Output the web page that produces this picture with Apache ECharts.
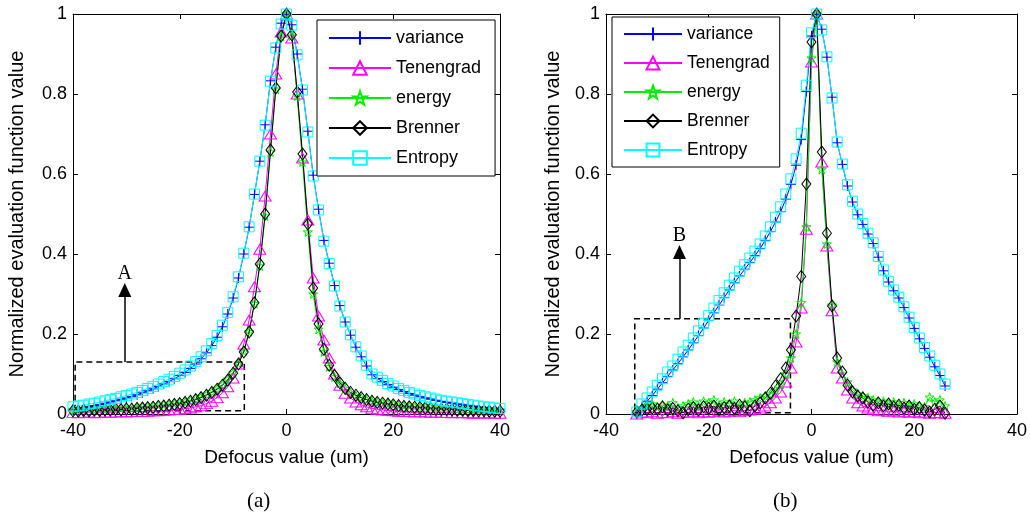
<!DOCTYPE html>
<html><head><meta charset="utf-8">
<script src="https://cdn.jsdelivr.net/npm/echarts@6/dist/echarts.min.js"></script>
<style>html,body{margin:0;padding:0;background:#fff}#c{width:1030px;height:522px}</style>
</head><body><div id="c"></div>
<script>
// ---------- DATA ----------
const seriesNames = ['variance', 'Tenengrad', 'energy', 'Brenner', 'Entropy'];
const xTicks = [-40, -20, 0, 20, 40];
const yTicks = [0, 0.2, 0.4, 0.6, 0.8, 1];

// (a) defocus positions
const aX = [-40,-39,-38,-37,-36,-35,-34,-33,-32,-31,-30,-29,-28,-27,-26,-25,-24,-23,-22,-21,-20,-19,-18,-17,-16,
  -15,-14,-13,-12,-11,-10,-9,-8,-7,-6,-5,-4,-3,-2,-1,0,1,2,3,4,5,6,7,8,9,10,11,12,13,14,15,
  16,17,18,19,20,21,22,23,24,25,26,27,28,29,30,31,32,33,34,35,36,37,38,39,40];
const aVariance = [0.012,0.014,0.016,0.019,0.021,0.024,0.027,0.030,0.033,0.037,0.040,0.044,0.048,0.053,0.058,0.063,0.069,0.075,0.081,0.088,0.096,0.104,0.114,0.125,0.138,
  0.153,0.171,0.192,0.218,0.250,0.290,0.340,0.400,0.467,0.549,0.632,0.723,0.833,0.917,0.977,1.000,
  0.973,0.900,0.812,0.707,0.597,0.512,0.434,0.377,0.321,0.271,0.230,0.197,0.167,0.143,0.120,
  0.098,0.089,0.081,0.074,0.067,0.061,0.056,0.051,0.047,0.043,0.040,0.037,0.034,0.031,0.029,0.027,0.025,0.023,0.021,0.019,0.017,0.016,0.014,0.013,0.012];
const aTenengrad = [0.004,0.003,0.004,0.005,0.003,0.004,0.005,0.004,0.005,0.006,0.005,0.006,0.007,0.006,0.007,0.008,0.008,0.009,0.010,0.011,0.012,0.013,0.015,0.018,0.021,
  0.026,0.032,0.041,0.053,0.068,0.090,0.125,0.175,0.235,0.318,0.412,0.545,0.700,0.850,0.955,1.000,
  0.940,0.800,0.640,0.485,0.340,0.245,0.185,0.140,0.100,0.072,0.052,0.040,0.030,0.023,0.018,
  0.014,0.012,0.010,0.009,0.008,0.007,0.007,0.006,0.005,0.006,0.005,0.004,0.005,0.004,0.004,0.003,0.004,0.003,0.003,0.002,0.003,0.002,0.003,0.002,0.002];
const aEnergy = [0.010,0.012,0.009,0.013,0.011,0.014,0.012,0.015,0.013,0.016,0.014,0.017,0.016,0.018,0.019,0.020,0.022,0.023,0.025,0.027,0.029,0.031,0.034,0.038,0.043,
  0.049,0.056,0.064,0.074,0.087,0.104,0.127,0.157,0.206,0.276,0.370,0.495,0.655,0.812,0.944,1.000,
  0.945,0.795,0.630,0.455,0.300,0.212,0.155,0.118,0.093,0.076,0.063,0.053,0.046,0.041,0.036,
  0.033,0.030,0.028,0.026,0.024,0.022,0.021,0.020,0.019,0.017,0.017,0.016,0.015,0.014,0.014,0.013,0.012,0.012,0.011,0.011,0.010,0.010,0.009,0.009,0.008];
const aBrenner = [0.008,0.007,0.009,0.008,0.010,0.009,0.011,0.010,0.012,0.011,0.013,0.012,0.014,0.015,0.016,0.017,0.019,0.020,0.022,0.024,0.026,0.029,0.032,0.036,0.041,
  0.047,0.054,0.062,0.072,0.085,0.102,0.125,0.155,0.205,0.278,0.375,0.500,0.660,0.815,0.945,1.000,
  0.948,0.805,0.650,0.475,0.315,0.225,0.162,0.122,0.096,0.078,0.064,0.054,0.047,0.041,0.036,
  0.032,0.029,0.027,0.025,0.023,0.021,0.019,0.018,0.017,0.016,0.015,0.014,0.013,0.012,0.012,0.011,0.010,0.010,0.009,0.009,0.008,0.008,0.007,0.007,0.007];
const aEntropy = [0.018,0.020,0.022,0.025,0.027,0.030,0.033,0.036,0.039,0.043,0.046,0.050,0.054,0.059,0.064,0.069,0.075,0.081,0.087,0.094,0.102,0.110,0.120,0.131,0.143,
  0.158,0.176,0.196,0.222,0.254,0.293,0.343,0.402,0.468,0.550,0.632,0.722,0.832,0.915,0.975,1.000,
  0.972,0.898,0.810,0.705,0.595,0.510,0.432,0.376,0.320,0.270,0.230,0.198,0.168,0.145,0.122,
  0.100,0.092,0.084,0.076,0.070,0.064,0.059,0.054,0.050,0.046,0.043,0.040,0.037,0.034,0.032,0.030,0.028,0.026,0.024,0.022,0.020,0.018,0.017,0.015,0.014];

// (b) defocus positions
const bX = [-34,-33,-32,-31,-30,-29,-28,-27,-26,-25,-24,-23,-22,-21,-20,-19,-18,-17,-16,-15,-14,-13,-12,-11,-10,-9,-8,-7,-6,-5,-4,-3,-2,-1,
  0,1,2,3,4,5,6,7,8,9,10,11,12,13,14,15,16,17,18,19,20,21,22,23,24,25,26];
const bVariance = [0.000,0.018,0.032,0.046,0.062,0.078,0.094,0.110,0.126,0.143,0.160,0.178,0.196,0.215,0.234,0.253,0.272,0.291,0.310,0.328,0.345,0.362,0.379,0.396,0.414,0.434,0.456,0.480,0.506,0.537,0.574,0.622,0.686,0.806,
  0.945,1.000,
  0.962,0.892,0.792,0.678,0.624,0.570,0.530,0.498,0.474,0.450,0.426,0.392,0.358,0.330,0.308,0.290,0.266,0.240,0.214,0.188,0.164,0.142,0.118,0.096,0.070];
const bTenengrad = [0.000,0.005,0.003,0.006,0.002,0.004,0.003,0.006,0.002,0.005,0.004,0.007,0.003,0.006,0.004,0.006,0.008,0.005,0.007,0.009,0.006,0.008,0.010,0.012,0.015,0.020,0.028,0.040,0.055,0.080,0.115,0.180,0.265,0.462,
  0.880,1.000,
  0.630,0.420,0.258,0.115,0.090,0.060,0.040,0.028,0.020,0.015,0.012,0.008,0.010,0.006,0.008,0.005,0.007,0.004,0.006,0.003,0.005,0.002,0.004,0.003,0.002];
const bEnergy = [0.005,0.015,0.020,0.025,0.018,0.022,0.020,0.028,0.015,0.020,0.025,0.030,0.020,0.032,0.028,0.035,0.022,0.030,0.025,0.032,0.020,0.028,0.030,0.035,0.040,0.045,0.050,0.060,0.075,0.100,0.140,0.200,0.278,0.468,
  0.890,1.000,
  0.612,0.425,0.272,0.130,0.100,0.080,0.060,0.050,0.045,0.040,0.035,0.030,0.032,0.025,0.030,0.022,0.028,0.020,0.025,0.020,0.018,0.042,0.030,0.035,0.020];
const bBrenner = [0.005,0.010,0.012,0.015,0.012,0.018,0.010,0.014,0.008,0.003,0.012,0.016,0.010,0.018,0.014,0.020,0.012,0.016,0.020,0.014,0.022,0.018,0.008,0.020,0.028,0.040,0.052,0.070,0.088,0.115,0.160,0.245,0.344,0.575,
  0.930,1.000,
  0.655,0.452,0.270,0.140,0.105,0.072,0.055,0.045,0.040,0.030,0.022,0.028,0.020,0.025,0.018,0.022,0.015,0.020,0.012,0.016,0.010,0.005,0.012,0.020,0.002];
const bEntropy = [0.005,0.025,0.040,0.055,0.072,0.088,0.105,0.120,0.137,0.155,0.172,0.190,0.208,0.227,0.246,0.265,0.284,0.303,0.322,0.340,0.357,0.373,0.390,0.407,0.425,0.445,0.468,0.492,0.518,0.550,0.588,0.638,0.702,0.822,
  0.953,1.000,
  0.960,0.893,0.790,0.680,0.625,0.573,0.532,0.500,0.476,0.452,0.428,0.394,0.360,0.332,0.310,0.292,0.268,0.242,0.216,0.190,0.166,0.145,0.122,0.100,0.075];

// annotation boxes (data coordinates) and labels
const panelLabels = ['(a)', '(b)'];
const boxA = {x0: -39.6, x1: -7.9, y0: 0.008, y1: 0.13, arrowX: -30.3, arrowTip: 0.31, label: 'A'};
const boxB = {x0: -34.4, x1: -4.1, y0: 0.003, y1: 0.238, arrowX: -25.7, arrowTip: 0.405, label: 'B'};

// ---------- STYLE ----------
const SANS = '"Liberation Sans", Arial, Helvetica, sans-serif';
const SERIF = '"Liberation Serif", "Times New Roman", serif';
const plusPath = 'path://M0,5L10,5M5,0L5,10';
const starPath = 'path://M10,0L12.35,6.76L19.51,6.91L13.8,11.24L15.88,18.09L10,14L4.12,18.09L6.2,11.24L0.49,6.91L7.65,6.76Z';
const styleMap = {
  variance:  {color: '#0000ff', symbol: plusPath, size: [10, 10]},
  Tenengrad: {color: '#ff00ff', symbol: 'triangle', size: [12, 10]},
  energy:    {color: '#00ee00', symbol: starPath, size: [9, 9]},
  Brenner:   {color: '#000000', symbol: 'diamond', size: [9, 12]},
  Entropy:   {color: '#00ffff', symbol: 'rect', size: [10, 10]}
};

const grids = [
  {left: 73, top: 14, width: 427, height: 400},
  {left: 606, top: 14, width: 412, height: 400}
];

function makeAxes(g, nameGapY) {
  const base = {
    type: 'value', gridIndex: g,
    axisLine: {show: true, onZero: false, lineStyle: {color: '#000', width: 1}},
    axisTick: {show: true, inside: true, length: 5, lineStyle: {color: '#000', width: 1}},
    splitLine: {show: false},
    axisLabel: {color: '#000', fontSize: 18, fontFamily: SANS}
  };
  const xb = Object.assign({}, base, {
    min: xTicks[0], max: xTicks[xTicks.length - 1], interval: xTicks[1] - xTicks[0],
    position: 'bottom', name: 'Defocus value (um)', nameLocation: 'middle', nameGap: 34,
    nameTextStyle: {color: '#000', fontSize: 19, fontFamily: SANS},
    axisLabel: Object.assign({}, base.axisLabel, {margin: 8})
  });
  const xt = Object.assign({}, base, {
    min: xTicks[0], max: xTicks[xTicks.length - 1], interval: xTicks[1] - xTicks[0],
    position: 'top', axisLabel: {show: false}
  });
  const yl = Object.assign({}, base, {
    min: yTicks[0], max: yTicks[yTicks.length - 1], interval: yTicks[1] - yTicks[0],
    position: 'left', name: 'Normalized evaluation function value', nameLocation: 'middle', nameGap: nameGapY,
    nameTextStyle: {color: '#000', fontSize: 20, fontFamily: SANS},
    axisLabel: Object.assign({}, base.axisLabel, {margin: 6})
  });
  const yr = Object.assign({}, base, {
    min: yTicks[0], max: yTicks[yTicks.length - 1], interval: yTicks[1] - yTicks[0],
    position: 'right', axisLabel: {show: false}
  });
  return {x: [xb, xt], y: [yl, yr]};
}

const axA = makeAxes(0, 46), axB = makeAxes(1, 43);

function makeSeries(name, xs, ys, axisIdx, box) {
  const st = styleMap[name];
  const s = {
    name: name, type: 'line', xAxisIndex: axisIdx, yAxisIndex: axisIdx,
    data: xs.map((x, i) => [x, ys[i]]),
    symbol: st.symbol, symbolSize: st.size, showAllSymbol: true,
    lineStyle: {color: st.color, width: 1},
    itemStyle: {color: 'rgba(0,0,0,0)', borderColor: st.color, borderWidth: 1},
    emphasis: {disabled: true}, clip: false
  };
  if (box) {
    s.markArea = {
      silent: true,
      itemStyle: {color: 'rgba(0,0,0,0)', borderColor: '#000', borderWidth: 1.5, borderType: [6, 4]},
      label: {show: false},
      data: [[{coord: [box.x0, box.y0]}, {coord: [box.x1, box.y1]}]]
    };
    s.markLine = {
      silent: true, symbol: ['none', 'triangle'], symbolSize: [13, 14],
      lineStyle: {color: '#000', width: 1.5, type: 'solid'},
      label: {show: true, position: 'end', formatter: box.label, color: '#000', fontFamily: SERIF, fontSize: 20, distance: 6},
      data: [[{coord: [box.arrowX, box.y1]}, {coord: [box.arrowX, box.arrowTip]}]]
    };
  }
  return s;
}

const aData = {variance: aVariance, Tenengrad: aTenengrad, energy: aEnergy, Brenner: aBrenner, Entropy: aEntropy};
const bData = {variance: bVariance, Tenengrad: bTenengrad, energy: bEnergy, Brenner: bBrenner, Entropy: bEntropy};

const series = [];
seriesNames.forEach((n, i) => series.push(makeSeries(n, aX, aData[n], 0, i === 0 ? boxA : null)));
seriesNames.forEach((n, i) => series.push(makeSeries(n, bX, bData[n], 2, i === 0 ? boxB : null)));

const legendCommon = {
  orient: 'vertical', data: seriesNames, backgroundColor: '#fff',
  borderColor: '#000', borderWidth: 1, borderRadius: 0,
  selectedMode: false,
  textStyle: {color: '#000', fontFamily: SANS}
};

const option = {
  animation: false,
  backgroundColor: '#fff',
  grid: grids,
  xAxis: [axA.x[0], axA.x[1], axB.x[0], axB.x[1]],
  yAxis: [axA.y[0], axA.y[1], axB.y[0], axB.y[1]],
  legend: [
    Object.assign({}, legendCommon, {left: 317, top: 20, itemWidth: 62, itemHeight: 17, itemGap: 12, padding: [9, 14, 9, 11],
      textStyle: {color: '#000', fontFamily: SANS, fontSize: 18}}),
    Object.assign({}, legendCommon, {left: 612, top: 17, itemWidth: 58, itemHeight: 16, itemGap: 11, padding: [8, 10, 8, 11],
      textStyle: {color: '#000', fontFamily: SANS, fontSize: 17.5}})
  ],
  graphic: [
    {type: 'text', left: 247, top: 491, style: {text: panelLabels[0], font: '21px ' + SERIF, fill: '#000'}},
    {type: 'text', left: 773, top: 491, style: {text: panelLabels[1], font: '21px ' + SERIF, fill: '#000'}}
  ],
  series: series
};

const chart = echarts.init(document.getElementById('c'), null, {renderer: 'canvas'});
chart.setOption(option);
</script></body></html>
